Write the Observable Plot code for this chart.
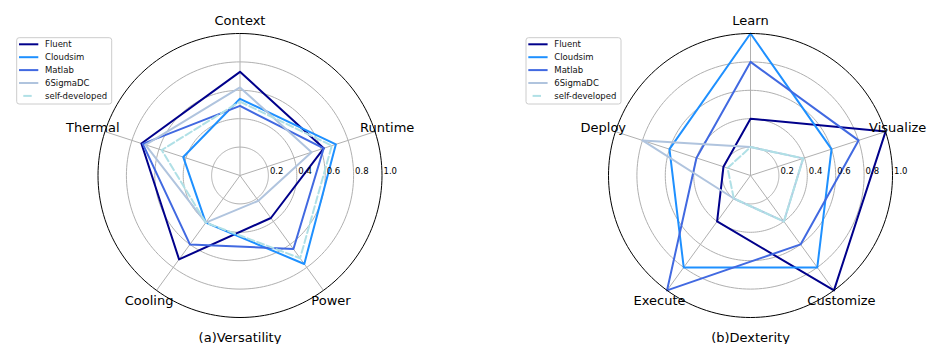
<!DOCTYPE html>
<html><head><meta charset="utf-8">
<script src="https://cdn.jsdelivr.net/npm/d3@7"></script>
<script src="https://cdn.jsdelivr.net/npm/@observablehq/plot@0.6"></script>
<style>html,body{margin:0;padding:0;background:#fff;} #chart{width:929px;height:344px;}</style>
</head><body><div id="chart"></div>
<script>
// ---- data ----
const series = ["Fluent", "Cloudsim", "Matlab", "6SigmaDC", "self-developed"];
const colors = ["#00008b", "#1e90ff", "#4169e1", "#b0c4de", "#b0e0e6"];
const axesA = ["Context", "Runtime", "Power", "Cooling", "Thermal"];
const axesB = ["Learn", "Visualize", "Customize", "Execute", "Deploy"];
const titles = ["(a)Versatility", "(b)Dexterity"];
const ticks = [0.2, 0.4, 0.6, 0.8, 1.0];
const tickLabels = ["0.2", "0.4", "0.6", "0.8", "1.0"];

// (a) Versatility
const fluentA   = [0.73, 0.62, 0.37, 0.73, 0.73];
const cloudsimA = [0.54, 0.71, 0.77, 0.41, 0.42];
const matlabA   = [0.49, 0.62, 0.64, 0.60, 0.72];
const sigmaA    = [0.62, 0.53, 0.22, 0.41, 0.70];
const selfA     = [0.52, 0.68, 0.72, 0.41, 0.58];
// (b) Dexterity
const fluentB   = [0.40, 1.00, 1.00, 0.40, 0.20];
const cloudsimB = [1.00, 0.60, 0.80, 0.80, 0.60];
const matlabB   = [0.80, 0.80, 0.60, 1.00, 0.40];
const sigmaB    = [0.20, 0.39, 0.40, 0.20, 0.80];
const selfB     = [0.20, 0.39, 0.40, 0.20, 0.17];

// ---- layout ----
const W = 929, H = 344, R = 142, CX = [239.5, 750], CY = 175;
const offsets = CX.map(c => (c - CX[0]) / R);
const ang = i => i * 2 * Math.PI / 5;
const charts = [
  {axes: axesA, values: [fluentA, cloudsimA, matlabA, sigmaA, selfA]},
  {axes: axesB, values: [fluentB, cloudsimB, matlabB, sigmaB, selfB]}
];

const rows = [];
charts.forEach((ch, c) => series.forEach((s, k) => ch.values[k].forEach((v, i) => {
  rows.push({c, s, v, i, x: offsets[c] + v * Math.sin(ang(i)), y: v * Math.cos(ang(i))});
})));

const rings = [];
offsets.forEach((o, c) => ticks.forEach(t => {
  for (let j = 0; j < 180; j++) {
    const a = j * 2 * Math.PI / 180;
    rings.push({c, t, x: o + t * Math.sin(a), y: t * Math.cos(a)});
  }
}));

const spokes = [];
const axisLabels = [];
const rLabels = [];
charts.forEach((ch, c) => {
  ch.axes.forEach((name, i) => {
    spokes.push({x1: offsets[c], y1: 0, x2: offsets[c] + Math.sin(ang(i)), y2: Math.cos(ang(i))});
    axisLabels.push({name, x: offsets[c] + 1.09 * Math.sin(ang(i)), y: 1.09 * Math.cos(ang(i))});
  });
  ticks.forEach((t, j) => rLabels.push({label: tickLabels[j], x: offsets[c] + t, y: 0}));
});
const titleRows = titles.map((t, c) => ({t, x: offsets[c], y: -(337 - CY) / R}));

const plot = Plot.plot({
  width: W, height: H,
  marginTop: 0, marginRight: 0, marginBottom: 0, marginLeft: 0,
  x: {domain: [-CX[0] / R, (W - CX[0]) / R], range: [0, W], axis: null},
  y: {domain: [-(H - CY) / R, CY / R], range: [H, 0], axis: null},
  color: {domain: series, range: colors},
  style: {fontFamily: "DejaVu Sans, sans-serif", background: "white"},
  marks: [
    Plot.line(rings.filter(d => d.t < 1), {x: "x", y: "y", z: d => d.c + "-" + d.t, stroke: "#b0b0b0", strokeWidth: 1, curve: "linear-closed"}),
    Plot.link(spokes, {x1: "x1", y1: "y1", x2: "x2", y2: "y2", stroke: "#b0b0b0", strokeWidth: 1}),
    Plot.line(rows.filter(d => d.s !== "self-developed"), {x: "x", y: "y", z: d => d.c + "-" + d.s, stroke: "s", strokeWidth: 2, curve: "linear-closed", strokeLinejoin: "round"}),
    Plot.line(rows.filter(d => d.s === "self-developed"), {x: "x", y: "y", z: d => d.c + "-" + d.s, stroke: "s", strokeWidth: 2, curve: "linear-closed", strokeDasharray: "7.2,3.1"}),
    Plot.line(rings.filter(d => d.t === 1), {x: "x", y: "y", z: d => d.c + "-" + d.t, stroke: "black", strokeWidth: 1, curve: "linear-closed"}),
    Plot.text(rLabels, {x: "x", y: "y", text: "label", textAnchor: "start", dx: 1.5, dy: -4, fontSize: 8.5, fill: "black"}),
    Plot.text(axisLabels, {x: "x", y: "y", text: "name", fontSize: 13, fill: "black"}),
    Plot.text(titleRows, {x: "x", y: "y", text: "t", fontSize: 13, fill: "black"})
  ]
});

// legends
const svg = d3.select(plot);
[16.7, 526].forEach(lx => {
  const g = svg.append("g").attr("transform", `translate(${lx},37.7)`);
  g.append("rect").attr("width", 95).attr("height", 66.3).attr("rx", 2.5)
    .attr("fill", "white").attr("fill-opacity", 0.8).attr("stroke", "#cccccc").attr("stroke-width", 1);
  series.forEach((s, k) => {
    const yy = 6.6 + k * 12.9;
    const dashed = s === "self-developed";
    g.append("line").attr("x1", dashed ? 6.6 : 2.3).attr("x2", dashed ? 15 : 21.6)
      .attr("y1", yy).attr("y2", yy).attr("stroke", colors[k]).attr("stroke-width", 2);
    g.append("text").attr("x", 28.3).attr("y", yy).attr("dy", "0.35em")
      .attr("text-anchor", "start").style("text-anchor", "start")
      .attr("font-size", 8.5).attr("fill", "#111").attr("font-family", "DejaVu Sans, sans-serif").text(s);
  });
});

document.getElementById("chart").appendChild(plot);
</script></body></html>
